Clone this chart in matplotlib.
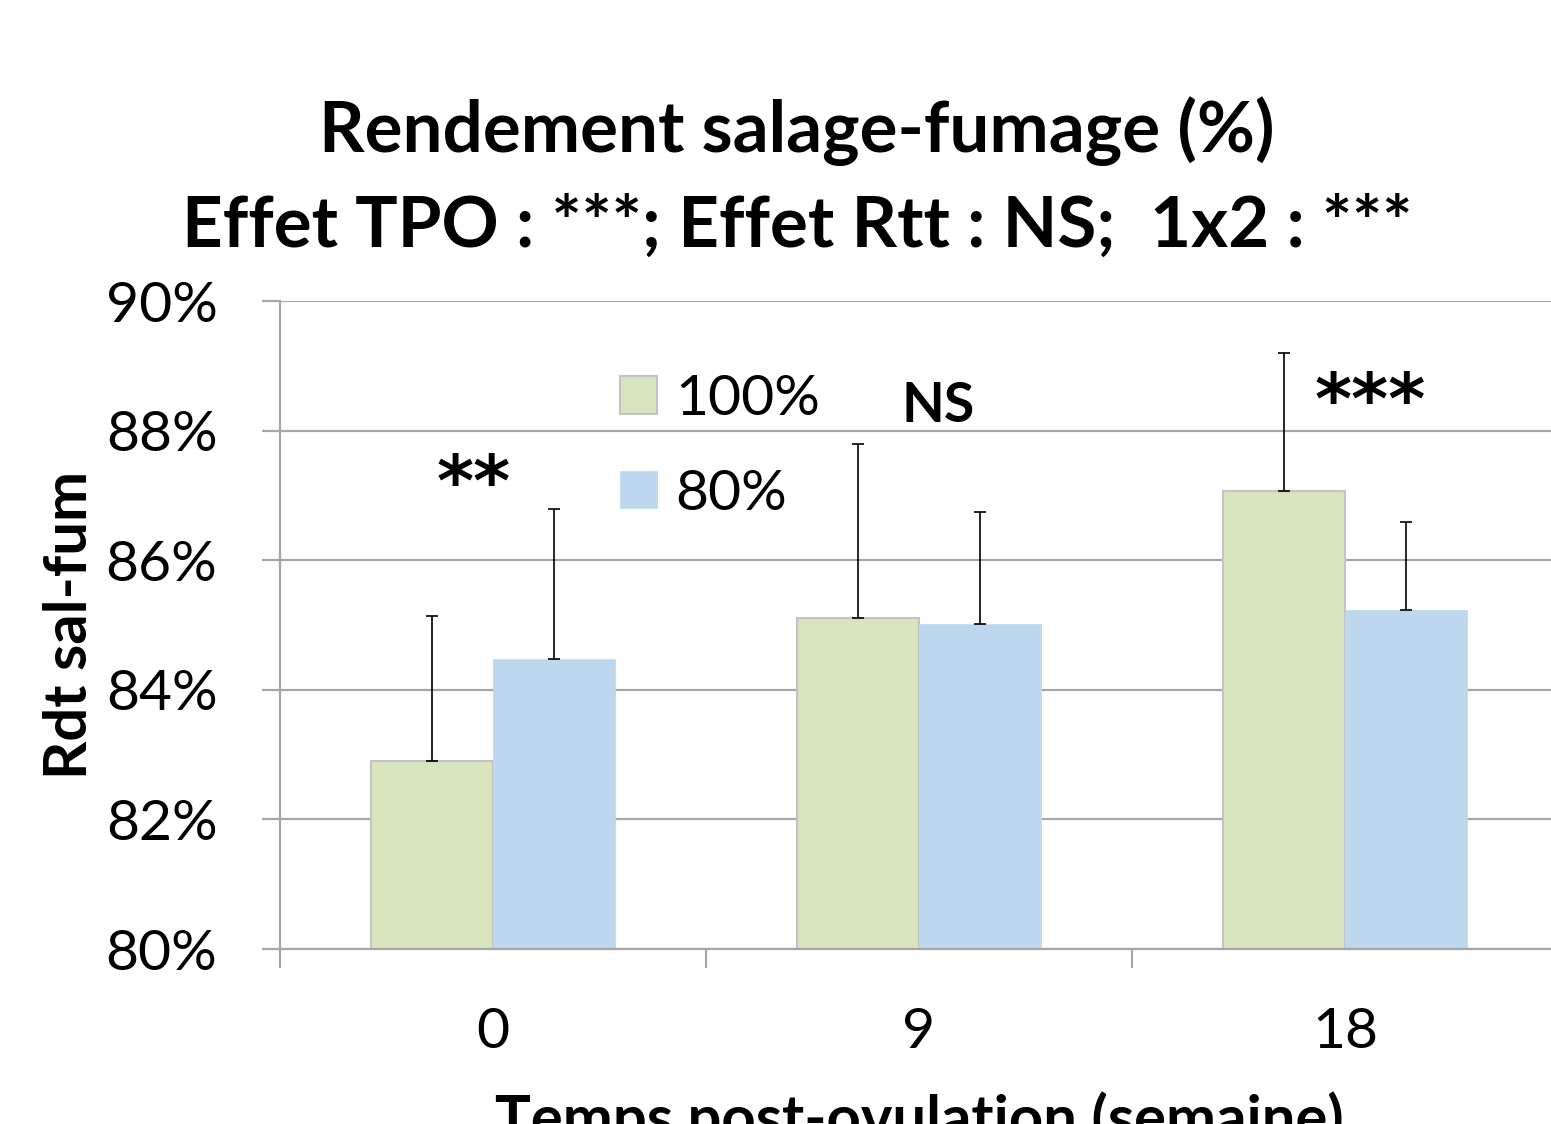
import matplotlib
matplotlib.use("Agg")
import matplotlib.pyplot as plt
import numpy as np
from matplotlib.ticker import FuncFormatter

# Data
semaines = ['0', '9', '18']
rdt_100 = [82.90, 85.11, 87.07]
err_100 = [2.24, 2.68, 2.13]
rdt_80 = [84.48, 85.02, 85.23]
err_80 = [2.31, 1.72, 1.36]
signif = ['**', 'NS', '***']

plt.rcParams['font.family'] = ['Lato', 'DejaVu Sans']

fig = plt.figure(figsize=(15.51, 11.24), dpi=100)
W, H = 1551, 1124
# axes placed in pixel coords of the reference (right edge runs just past the figure)
ax = fig.add_axes([280 / W, 1 - 949 / H, (1558 - 280) / W, (949 - 301) / H])

x = np.arange(len(semaines))
width = 0.2865
grid_col = '#A6A6A6'

ax.bar(x - width / 2, rdt_100, width, color='#D7E4BD', edgecolor='#C3C3C3',
       linewidth=1.5, label='100%', zorder=2)
ax.bar(x + width / 2, rdt_80, width, color='#BDD7EE', edgecolor='#BDD7EE',
       linewidth=0.5, label='80%', zorder=2)

# upward-only error bars
ax.errorbar(x - width / 2, rdt_100, yerr=[np.zeros(3), err_100], fmt='none',
            ecolor='black', elinewidth=1.2, capsize=4.3, capthick=1.2, zorder=3)
ax.errorbar(x + width / 2, rdt_80, yerr=[np.zeros(3), err_80], fmt='none',
            ecolor='black', elinewidth=1.2, capsize=4.3, capthick=1.2, zorder=3)

ax.set_ylim(80, 90)
ax.set_xlim(-0.5, 2.5)
ax.set_yticks(np.arange(80, 91, 2))
ax.yaxis.set_major_formatter(FuncFormatter(lambda v, p: f'{v:.0f}%'))
ax.yaxis.grid(True, color=grid_col, linewidth=1.6)
ax.set_axisbelow(True)

for s in ['top', 'right']:
    ax.spines[s].set_visible(False)
for s in ['left', 'bottom']:
    ax.spines[s].set_color(grid_col)
    ax.spines[s].set_linewidth(1.6)

ax.set_xticks(x)
ax.set_xticklabels(semaines)
ax.set_xticks([-0.5, 0.5, 1.5, 2.5], minor=True)
ax.tick_params(axis='x', which='major', length=0, labelsize=41, pad=42)
ax.tick_params(axis='x', which='minor', length=13.7, width=1.6, color=grid_col)
ax.tick_params(axis='y', length=13, width=1.6, color=grid_col, labelsize=41, pad=32)

ax.set_ylabel('Rdt sal-fum', fontsize=43, fontweight='bold', labelpad=6)
ax.set_xlabel('Temps post-ovulation (semaine)', fontsize=43, fontweight='bold', labelpad=24)

# significance marks (big six-arm asterisks like the original)
star_font = ['DejaVu Sans']
ax.text(-0.045, 87.14, signif[0], fontsize=51, fontweight='bold', family=star_font,
        ha='center', va='center')
ax.text(1.045, 88.13, signif[1], fontsize=40, fontweight='bold', ha='center', va='baseline')
ax.text(2.06, 88.40, signif[2], fontsize=51, fontweight='bold', family=star_font,
        ha='center', va='center')

ax.legend(loc='upper left', bbox_to_anchor=(620 / W, 1 - 374 / H),
          bbox_transform=fig.transFigure, frameon=False, fontsize=41,
          handlelength=0.65, handleheight=0.63, handletextpad=0.32,
          labelspacing=0.77, borderpad=0, borderaxespad=0)

fig.text(797 / W, 1 - 152 / H, 'Rendement salage-fumage (%)', fontsize=51,
         fontweight='bold', ha='center', va='baseline')
fig.text(797 / W, 1 - 247 / H, 'Effet TPO : ***; Effet Rtt : NS;  1x2 : ***',
         fontsize=51, fontweight='bold', ha='center', va='baseline')

fig.savefig('out.png', dpi=100, facecolor='white')
